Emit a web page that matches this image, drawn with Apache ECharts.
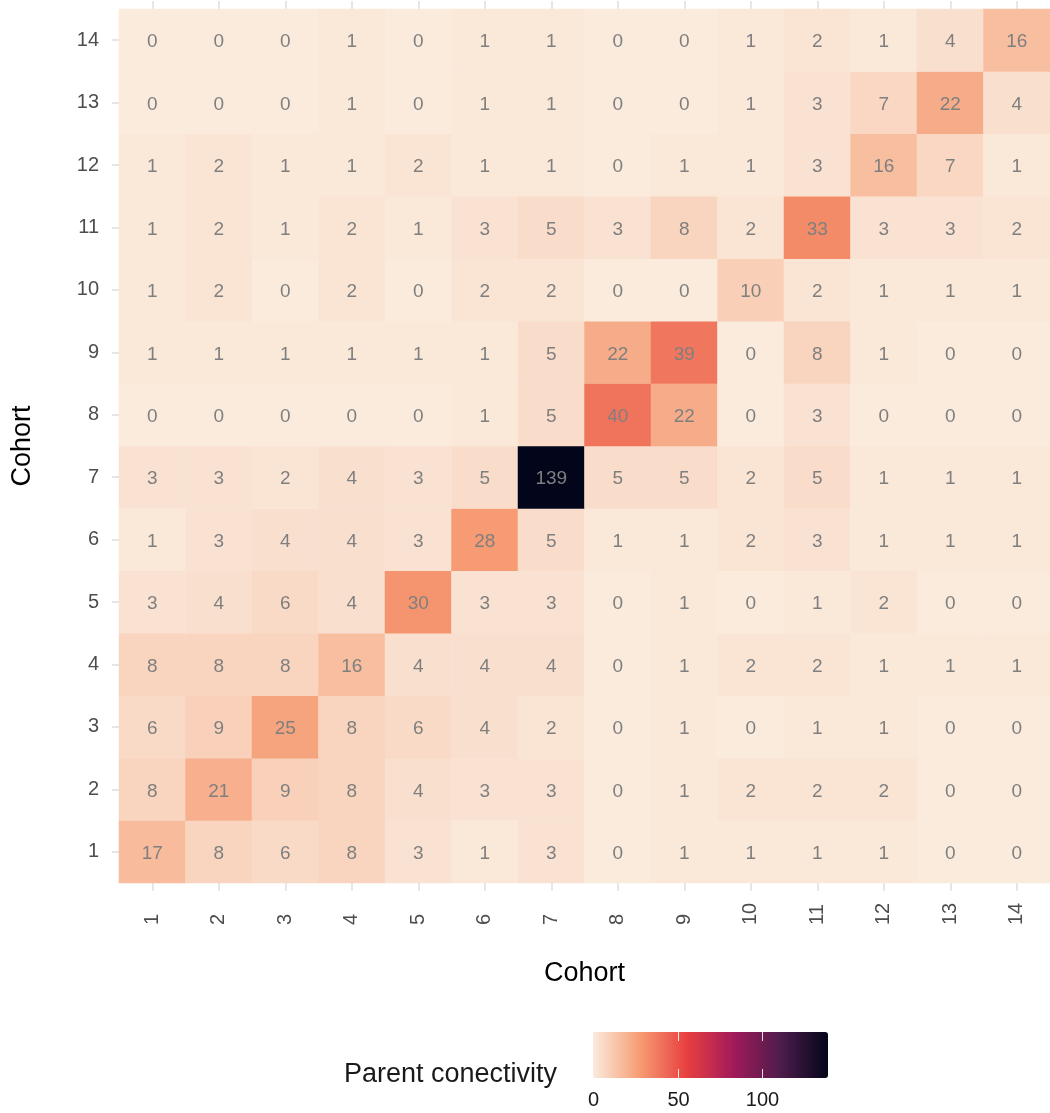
<!DOCTYPE html>
<html>
<head>
<meta charset="utf-8">
<script src="https://cdn.jsdelivr.net/npm/echarts@6/dist/echarts.min.js"></script>
<style>html,body{margin:0;padding:0;background:#fff}#c{width:1050px;height:1113px}</style>
</head>
<body>
<div id="c"></div>
<script>
const xCats = ['1','2','3','4','5','6','7','8','9','10','11','12','13','14'];
const yCats = ['1','2','3','4','5','6','7','8','9','10','11','12','13','14'];
// rows listed by y cohort 1..14, columns x cohort 1..14
const row1  = [17, 8, 6, 8, 3, 1, 3, 0, 1, 1, 1, 1, 0, 0];
const row2  = [8, 21, 9, 8, 4, 3, 3, 0, 1, 2, 2, 2, 0, 0];
const row3  = [6, 9, 25, 8, 6, 4, 2, 0, 1, 0, 1, 1, 0, 0];
const row4  = [8, 8, 8, 16, 4, 4, 4, 0, 1, 2, 2, 1, 1, 1];
const row5  = [3, 4, 6, 4, 30, 3, 3, 0, 1, 0, 1, 2, 0, 0];
const row6  = [1, 3, 4, 4, 3, 28, 5, 1, 1, 2, 3, 1, 1, 1];
const row7  = [3, 3, 2, 4, 3, 5, 139, 5, 5, 2, 5, 1, 1, 1];
const row8  = [0, 0, 0, 0, 0, 1, 5, 40, 22, 0, 3, 0, 0, 0];
const row9  = [1, 1, 1, 1, 1, 1, 5, 22, 39, 0, 8, 1, 0, 0];
const row10 = [1, 2, 0, 2, 0, 2, 2, 0, 0, 10, 2, 1, 1, 1];
const row11 = [1, 2, 1, 2, 1, 3, 5, 3, 8, 2, 33, 3, 3, 2];
const row12 = [1, 2, 1, 1, 2, 1, 1, 0, 1, 1, 3, 16, 7, 1];
const row13 = [0, 0, 0, 1, 0, 1, 1, 0, 0, 1, 3, 7, 22, 4];
const row14 = [0, 0, 0, 1, 0, 1, 1, 0, 0, 1, 2, 1, 4, 16];
const rows = [row1,row2,row3,row4,row5,row6,row7,row8,row9,row10,row11,row12,row13,row14];
const legendTicks = [0, 50, 100];
const legendMax = 139;

const data = [];
rows.forEach((r, yi) => r.forEach((v, xi) => data.push([xi, yi, v])));

const chart = echarts.init(document.getElementById('c'), null, {renderer: 'canvas'});

const FONT = '"Liberation Sans", Arial, sans-serif';
const barLeft = 593, barTop = 1032, barLen = 235, barThick = 46;
const graphics = [
  {type: 'text', x: 557, y: 1075,
   style: {text: 'Parent conectivity', textAlign: 'right', textVerticalAlign: 'middle',
     font: '27px ' + FONT, fill: '#1a1a1a'}}
];
legendTicks.forEach(v => {
  const x = Math.round(barLeft + v / legendMax * barLen) + 0.5;
  if (v > 0) {
    graphics.push({type: 'line', z: 100, shape: {x1: x, y1: barTop, x2: x, y2: barTop + 9}, style: {stroke: 'rgba(255,255,255,0.85)', lineWidth: 1}});
    graphics.push({type: 'line', z: 100, shape: {x1: x, y1: barTop + barThick - 9, x2: x, y2: barTop + barThick}, style: {stroke: 'rgba(255,255,255,0.85)', lineWidth: 1}});
  }
  graphics.push({type: 'text', x: x, y: 1100, style: {text: String(v), textAlign: 'center', textVerticalAlign: 'middle',
    font: '20px ' + FONT, fill: '#1a1a1a'}});
});

const tickStyle = {show: true, alignWithLabel: true, length: 8, lineStyle: {color: '#dedede', width: 1.5}};

chart.setOption({
  animation: false,
  backgroundColor: '#ffffff',
  grid: {left: 119, top: 9, right: -2, bottom: 1113 - 883, containLabel: false},
  xAxis: [{
    type: 'category', data: xCats, position: 'bottom',
    name: 'Cohort', nameLocation: 'middle', nameGap: 77,
    nameTextStyle: {fontSize: 27, color: '#000', fontFamily: FONT},
    axisLine: {show: false}, axisTick: tickStyle, splitLine: {show: false},
    axisLabel: {rotate: 90, align: 'left', verticalAlign: 'middle', margin: 42, fontSize: 20, color: '#4d4d4d',
      fontFamily: FONT}
  }, {
    type: 'category', data: xCats, position: 'top',
    axisLine: {show: false}, axisTick: tickStyle, axisLabel: {show: false}, splitLine: {show: false}
  }],
  yAxis: {
    type: 'category', data: yCats,
    name: 'Cohort', nameLocation: 'middle', nameGap: 83,
    nameTextStyle: {fontSize: 27, color: '#000', fontFamily: FONT},
    axisLine: {show: false}, axisTick: {show: true, alignWithLabel: true, length: 7, lineStyle: {color: '#dedede', width: 1.5}},
    splitLine: {show: false},
    axisLabel: {margin: 20, fontSize: 20, color: '#4d4d4d', fontFamily: FONT, padding: [0, 0, 8, 0]}
  },
  visualMap: {
    type: 'continuous', min: 0, max: legendMax, orient: 'horizontal',
    left: barLeft, top: barTop, itemWidth: barThick, itemHeight: barLen,
    padding: 0, calculable: false, hoverLink: false, text: null, showLabel: false,
    inRange: {color: ['#FAEBDD', '#F69C73', '#E83F3F', '#A11A5B', '#4C1D4B', '#03051A']},
    seriesIndex: 0
  },
  graphic: graphics,
  series: [{
    type: 'heatmap', data: data,
    itemStyle: {borderWidth: 0},
    label: {show: true, color: '#7f7f7f', fontSize: 19, offset: [0, 2],
      fontFamily: FONT,
      formatter: p => String(p.value[2])},
    emphasis: {disabled: true}
  }]
});
</script>
</body>
</html>
